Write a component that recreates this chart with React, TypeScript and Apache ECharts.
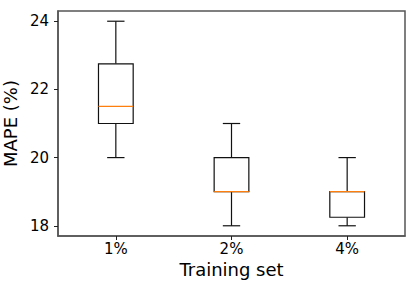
import React, { useEffect, useRef } from "react";
import * as echarts from "echarts";

const categories = ["1%", "2%", "4%"];
const whiskerLow = [20, 18, 18];
const q1 = [21, 19, 18.25];
const median = [21.5, 19, 19];
const q3 = [22.75, 20, 19];
const whiskerHigh = [24, 21, 20];
const yTicks = [18, 20, 22, 24];

export default function App() {
  const ref = useRef<HTMLDivElement>(null);
  useEffect(() => {
    if (!ref.current) return;
    const chart = echarts.init(ref.current, null, { renderer: "svg" });
    const font = "DejaVu Sans";
    const spine = "#555";
    const data = categories.map((c, i) => [i, whiskerLow[i], q1[i], median[i], q3[i], whiskerHigh[i]]);
    chart.setOption({
      animation: false,
      grid: {
        left: 58,
        right: 11,
        top: 11,
        bottom: 53,
        outerBoundsMode: "none",
        containLabel: false,
        show: true,
        borderColor: spine,
        borderWidth: 1.5,
        backgroundColor: "transparent",
      },
      xAxis: {
        type: "category",
        data: categories,
        boundaryGap: true,
        name: "Training set",
        nameLocation: "middle",
        nameGap: 23,
        nameTextStyle: { fontFamily: font, fontSize: 18, color: "#000" },
        axisLine: { show: true, lineStyle: { color: spine, width: 1.5 } },
        axisTick: { show: true, alignWithLabel: true, length: 4, lineStyle: { color: "#222" } },
        axisLabel: { fontFamily: font, fontSize: 15, color: "#000", margin: 5 },
        splitLine: { show: false },
      },
      yAxis: {
        type: "value",
        min: 17.7,
        max: 24.3,
        name: "MAPE (%)",
        nameLocation: "middle",
        nameRotate: 90,
        nameGap: 37,
        nameTextStyle: { fontFamily: font, fontSize: 18, color: "#000" },
        axisLine: { show: true, lineStyle: { color: spine, width: 1.5 } },
        axisTick: { show: true, length: 4, customValues: yTicks, lineStyle: { color: "#222" } },
        axisLabel: { fontFamily: font, fontSize: 15, color: "#000", margin: 9, customValues: yTicks },
        splitLine: { show: false },
      },
      series: [
        {
          type: "custom",
          data,
          encode: { x: 0, y: [1, 2, 3, 4, 5] },
          renderItem: (params: any, api: any) => {
            const idx = api.value(0);
            const lo = api.coord([idx, api.value(1)]);
            const b1 = api.coord([idx, api.value(2)]);
            const md = api.coord([idx, api.value(3)]);
            const b3 = api.coord([idx, api.value(4)]);
            const hi = api.coord([idx, api.value(5)]);
            const band = api.size([1, 0])[0];
            const hw = (band * 0.3) / 2;
            const cw = hw / 2;
            const x = lo[0];
            const stroke = { stroke: "#111", lineWidth: 1.2, fill: "none" };
            return {
              type: "group",
              children: [
                { type: "line", shape: { x1: x, y1: lo[1], x2: x, y2: b1[1] }, style: stroke },
                { type: "line", shape: { x1: x, y1: b3[1], x2: x, y2: hi[1] }, style: stroke },
                { type: "line", shape: { x1: x - cw, y1: lo[1], x2: x + cw, y2: lo[1] }, style: stroke },
                { type: "line", shape: { x1: x - cw, y1: hi[1], x2: x + cw, y2: hi[1] }, style: stroke },
                {
                  type: "rect",
                  shape: { x: x - hw, y: b3[1], width: 2 * hw, height: b1[1] - b3[1] },
                  style: { stroke: "#111", lineWidth: 1.2, fill: "#fff" },
                },
                {
                  type: "line",
                  shape: { x1: x - hw, y1: md[1], x2: x + hw, y2: md[1] },
                  style: { stroke: "#ff7f0e", lineWidth: 1.2 },
                },
              ],
            };
          },
        },
      ],
    });
    return () => chart.dispose();
  }, []);
  return <div ref={ref} style={{ width: 416, height: 289, position: "absolute", left: 0, top: 0 }} />;
}
